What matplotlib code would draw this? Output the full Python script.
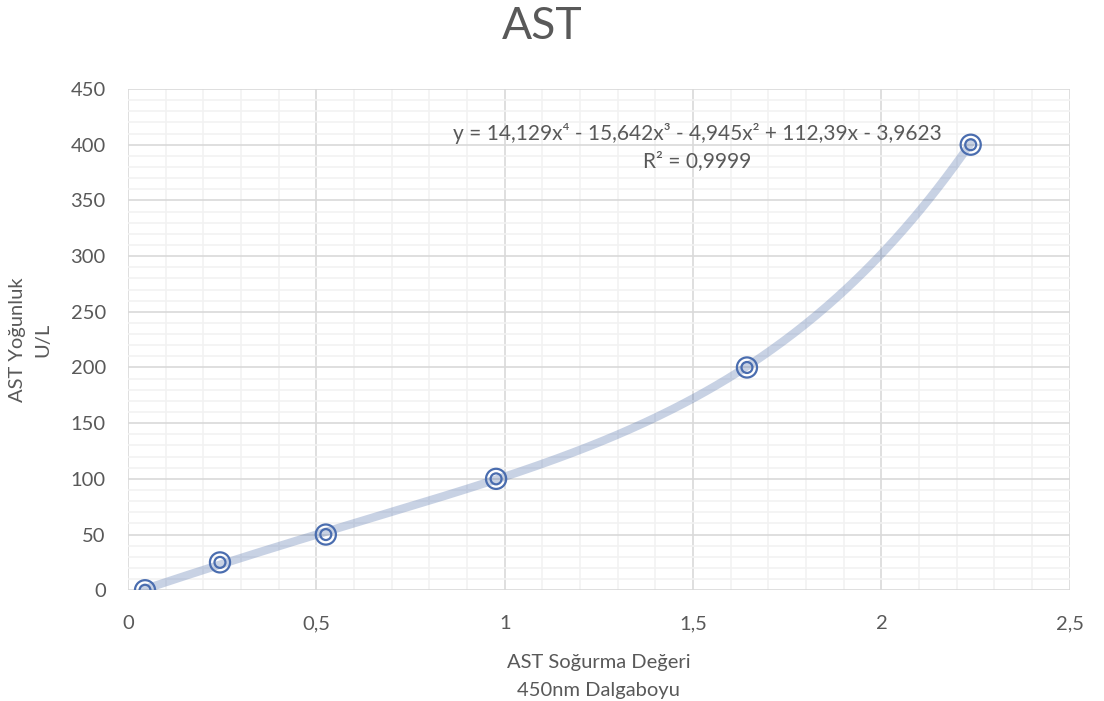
import numpy as np
import matplotlib.pyplot as plt
from matplotlib.ticker import MultipleLocator, FuncFormatter

# AST calibration points
soğurma = [0.045, 0.244, 0.525, 0.977, 1.643, 2.237]
yogunluk = [0, 25, 50, 100, 200, 400]

# trendline coefficients shown on the chart (x^4 .. x^0)
katsayilar = [14.129, -15.642, -4.945, 112.39, -3.9623]

x_ticks = [0, 0.5, 1, 1.5, 2, 2.5]
y_ticks = [0, 50, 100, 150, 200, 250, 300, 350, 400, 450]

plt.rcParams['font.family'] = ['Lato', 'DejaVu Sans']
gri = '#595959'
mavi = '#4A6DAF'

fig = plt.figure(figsize=(11.04, 7.01), dpi=100)
ax = fig.add_axes([0.116, 0.158, 0.853, 0.715])

# trendline
xs = np.linspace(min(soğurma), max(soğurma), 300)
ax.plot(xs, np.polyval(katsayilar, xs), color='#4A6BA8', alpha=0.3, lw=6,
        solid_capstyle='round', zorder=2)

# double-ring markers
ax.scatter(soğurma, yogunluk, s=210, facecolors='none', edgecolors=mavi,
           linewidths=1.6, zorder=3)
ax.scatter(soğurma, yogunluk, s=62, facecolors='none', edgecolors=mavi,
           linewidths=1.6, zorder=4)

ax.set_xlim(0, 2.5)
ax.set_ylim(0, 450)
ax.set_xticks(x_ticks)
ax.set_yticks(y_ticks)
ax.xaxis.set_minor_locator(MultipleLocator(0.1))
ax.yaxis.set_minor_locator(MultipleLocator(10))
ax.xaxis.set_major_formatter(FuncFormatter(lambda v, p: f'{v:g}'.replace('.', ',')))

ax.grid(which='minor', color='#F2F2F2', lw=1.2, zorder=0)
ax.grid(which='major', color='#D9D9D9', lw=1.2, zorder=1)
ax.set_axisbelow(True)
for s in ax.spines.values():
    s.set_visible(False)
ax.tick_params(which='both', length=0, labelsize=14.5, labelcolor=gri)
ax.tick_params(axis='x', pad=18)
ax.tick_params(axis='y', pad=16)

fig.text(0.491, 0.962, 'AST', fontsize=32, color=gri, ha='center', va='center')
ax.set_xlabel('AST Soğurma Değeri\n450nm Dalgaboyu', fontsize=14.5, color=gri,
              labelpad=16, linespacing=1.75)
ax.set_ylabel('AST Yoğunluk\nU/L', fontsize=14.5, color=gri, labelpad=14,
              linespacing=1.6)

ax.text(1.512, 376, 'y = 14,129x⁴ - 15,642x³ - 4,945x² + 112,39x - 3,9623\nR² = 0,9999',
        ha='center', va='bottom', fontsize=15, color=gri, linespacing=1.45)

fig.savefig('out.png', dpi=100)
